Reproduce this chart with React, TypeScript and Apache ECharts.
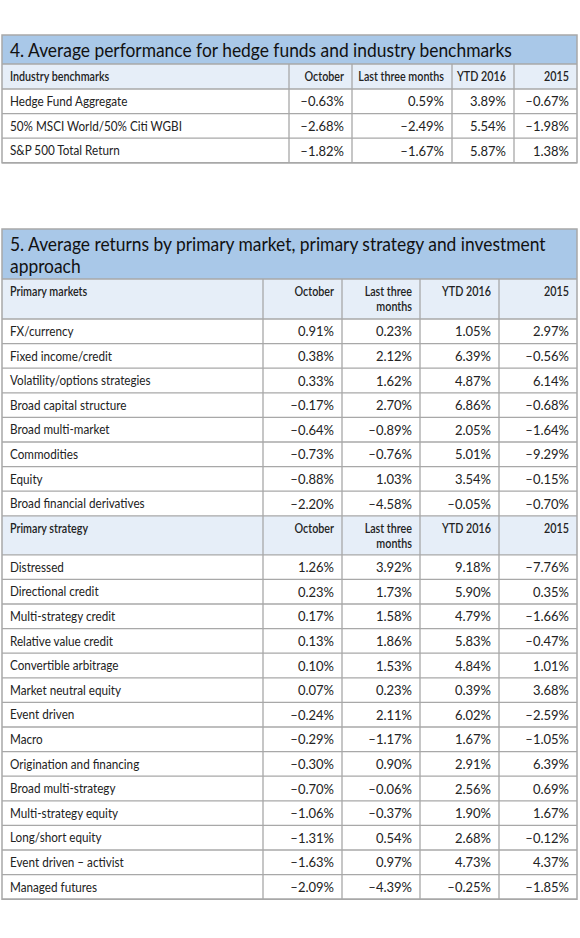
import React, { useEffect, useRef } from "react";
import * as echarts from "echarts";

// ---------- data ----------
const table4Title = ["4. Average performance for hedge funds and industry benchmarks"];
const table4Header = ["Industry benchmarks", "October", "Last three months", "YTD 2016", "2015"];
const benchNames = ["Hedge Fund Aggregate", "50% MSCI World/50% Citi WGBI", "S&P 500 Total Return"];
const benchOct = [-0.63, -2.68, -1.82];
const bench3m = [0.59, -2.49, -1.67];
const benchYtd = [3.89, 5.54, 5.87];
const bench2015 = [-0.67, -1.98, 1.38];

const table5Title = [
  "5. Average returns by primary market, primary strategy and investment",
  "approach",
];
const marketHeader = ["Primary markets", "October", "Last three\nmonths", "YTD 2016", "2015"];
const marketNames = [
  "FX/currency",
  "Fixed income/credit",
  "Volatility/options strategies",
  "Broad capital structure",
  "Broad multi-market",
  "Commodities",
  "Equity",
  "Broad financial derivatives",
];
const marketOct = [0.91, 0.38, 0.33, -0.17, -0.64, -0.73, -0.88, -2.2];
const market3m = [0.23, 2.12, 1.62, 2.7, -0.89, -0.76, 1.03, -4.58];
const marketYtd = [1.05, 6.39, 4.87, 6.86, 2.05, 5.01, 3.54, -0.05];
const market2015 = [2.97, -0.56, 6.14, -0.68, -1.64, -9.29, -0.15, -0.7];

const strategyHeader = ["Primary strategy", "October", "Last three\nmonths", "YTD 2016", "2015"];
const strategyNames = [
  "Distressed",
  "Directional credit",
  "Multi-strategy credit",
  "Relative value credit",
  "Convertible arbitrage",
  "Market neutral equity",
  "Event driven",
  "Macro",
  "Origination and financing",
  "Broad multi-strategy",
  "Multi-strategy equity",
  "Long/short equity",
  "Event driven \u2013 activist",
  "Managed futures",
];
const strategyOct = [1.26, 0.23, 0.17, 0.13, 0.1, 0.07, -0.24, -0.29, -0.3, -0.7, -1.06, -1.31, -1.63, -2.09];
const strategy3m = [3.92, 1.73, 1.58, 1.86, 1.53, 0.23, 2.11, -1.17, 0.9, -0.06, -0.37, 0.54, 0.97, -4.39];
const strategyYtd = [9.18, 5.9, 4.79, 5.83, 4.84, 0.39, 6.02, 1.67, 2.91, 2.56, 1.9, 2.68, 4.73, -0.25];
const strategy2015 = [-7.76, 0.35, -1.66, -0.47, 1.01, 3.68, -2.59, -1.05, 6.39, 0.69, 1.67, -0.12, 4.37, -1.85];

// ---------- styles ----------
const TITLE_BG = "#a9c8e8";
const HEAD_BG = "#e6eef8";
const BORDER = "#a8a8a8";
const TEXT = "#222222";
const FONT = "Lato, 'Open Sans', sans-serif";

const fmt = (v: number) => (v < 0 ? "\u2013" : "") + Math.abs(v).toFixed(2) + "%";

type Section = { header: string[]; names: string[]; cols: number[][]; headH: number };

function buildTable(
  els: any[],
  top: number,
  cols: number[],
  titleLines: string[],
  titleH: number,
  sections: Section[],
  rowH: number
) {
  const left = cols[0];
  const right = cols[cols.length - 1];
  els.push({ type: "rect", shape: { x: left, y: top, width: right - left, height: titleH }, style: { fill: TITLE_BG }, z: 0 });
  titleLines.forEach((t, i) => {
    els.push({
      type: "text",
      x: left + 8,
      y: top + 15 + i * 22,
      scaleX: 0.87,
      style: { text: t, fill: "#111", fontFamily: FONT, fontSize: 20, textAlign: "left", textVerticalAlign: "middle" },
      z: 3,
    });
  });
  let y = top + titleH;
  const hLines: number[] = [y];
  for (const s of sections) {
    els.push({ type: "rect", shape: { x: left, y, width: right - left, height: s.headH }, style: { fill: HEAD_BG }, z: 0 });
    const multi = s.headH > 30;
    s.header.forEach((h, c) => {
      const isFirst = c === 0;
      els.push({
        type: "text",
        x: isFirst ? cols[0] + 8 : cols[c + 1] - 8,
        y: multi ? y + 5 : y + s.headH / 2,
        scaleX: 0.86,
        style: {
          text: h,
          fill: TEXT,
          fontFamily: FONT,
          fontSize: 12.5,
          fontWeight: 600,
          lineHeight: 15,
          textAlign: isFirst ? "left" : "right",
          textVerticalAlign: multi ? "top" : "middle",
          align: isFirst ? "left" : "right",
        },
        z: 3,
      });
    });
    y += s.headH;
    hLines.push(y);
    s.names.forEach((n, r) => {
      const cy = y + rowH / 2;
      els.push({
        type: "text",
        x: cols[0] + 8,
        y: cy,
        scaleX: 0.9,
        style: { text: n, fill: TEXT, fontFamily: FONT, fontSize: 13, textAlign: "left", textVerticalAlign: "middle" },
        z: 3,
      });
      s.cols.forEach((arr, c) => {
        els.push({
          type: "text",
          x: cols[c + 2] - 8,
          y: cy,
          style: { text: fmt(arr[r]), fill: TEXT, fontFamily: FONT, fontSize: 13, textAlign: "right", textVerticalAlign: "middle" },
          z: 3,
        });
      });
      y += rowH;
      hLines.push(y);
    });
  }
  const bottom = y;
  const ls = { stroke: BORDER, lineWidth: 1.3 };
  hLines.forEach((hy) => els.push({ type: "line", shape: { x1: left, y1: hy, x2: right, y2: hy }, style: ls, z: 2 }));
  cols.slice(1, -1).forEach((cx) =>
    els.push({ type: "line", shape: { x1: cx, y1: top + titleH, x2: cx, y2: bottom }, style: ls, z: 2 })
  );
  els.push({ type: "rect", shape: { x: left, y: top, width: right - left, height: bottom - top }, style: { fill: "none", stroke: BORDER, lineWidth: 1.5 }, z: 4 });
}

export default function App() {
  const ref = useRef<HTMLDivElement>(null);
  useEffect(() => {
    if (!ref.current) return;
    const chart = echarts.init(ref.current, null, { renderer: "svg" });
    const els: any[] = [];
    buildTable(
      els,
      35,
      [2, 289, 352, 452, 514, 577],
      table4Title,
      29,
      [{ header: table4Header, names: benchNames, cols: [benchOct, bench3m, benchYtd, bench2015], headH: 25 }],
      24.6
    );
    buildTable(
      els,
      229,
      [2, 263, 342, 420, 499, 577],
      table5Title,
      50,
      [
        { header: marketHeader, names: marketNames, cols: [marketOct, market3m, marketYtd, market2015], headH: 40 },
        { header: strategyHeader, names: strategyNames, cols: [strategyOct, strategy3m, strategyYtd, strategy2015], headH: 39 },
      ],
      24.6
    );
    chart.setOption({ animation: false, backgroundColor: "#ffffff", graphic: { elements: els } });
    return () => chart.dispose();
  }, []);
  return <div ref={ref} style={{ position: "absolute", left: 0, top: 0, width: 580, height: 938 }} />;
}
